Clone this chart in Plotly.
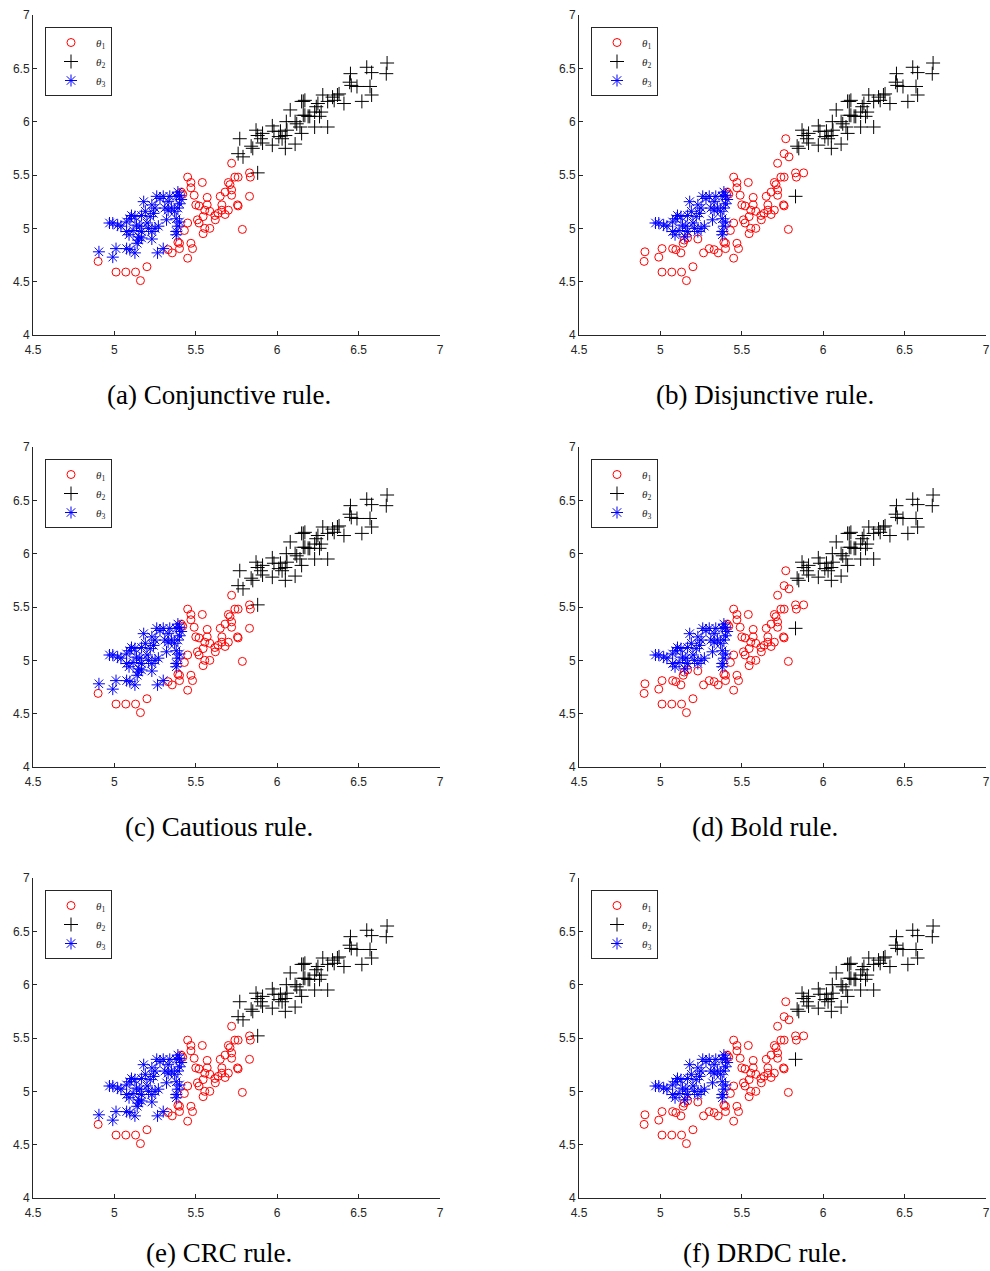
import plotly.graph_objects as go

# point groups, named by class under conjunctive-type rules / disjunctive-type rules
# theta1 under both
x_red = [4.90, 5.01, 5.07, 5.13, 5.16, 5.20, 5.33, 5.355, 5.40, 5.40, 5.45, 5.47, 5.48, 5.39, 5.43, 5.45,
         5.45, 5.47, 5.47, 5.54, 5.41, 5.42, 5.49, 5.57, 5.65, 5.68, 5.70, 5.71, 5.72, 5.72, 5.72, 5.74,
         5.83, 5.835, 5.756, 5.76, 5.66, 5.66, 5.70, 5.68, 5.50, 5.52, 5.57, 5.555, 5.586, 5.617, 5.637,
         5.545, 5.51, 5.52, 5.62, 5.586, 5.545, 5.786, 5.555, 5.76]
y_red = [4.69, 4.59, 4.59, 4.59, 4.51, 4.64, 4.80, 4.77, 4.86, 4.81, 4.72, 4.86, 4.81, 4.87, 4.98, 5.05,
         5.48, 5.43, 5.38, 5.43, 5.34, 5.32, 5.31, 5.29, 5.30, 5.34, 5.43, 5.41, 5.36, 5.31, 5.61, 5.48,
         5.52, 5.48, 5.22, 5.21, 5.22, 5.17, 5.17, 5.13, 5.22, 5.21, 5.22, 5.17, 5.16, 5.12, 5.14,
         5.11, 5.08, 5.05, 5.08, 5.00, 4.95, 4.99, 5.00, 5.48]

# theta2 under both
x_black = [5.84, 5.85, 5.87, 5.88, 5.90, 5.91, 5.91, 5.97, 5.98, 6.02, 6.01, 6.05,
           6.06, 5.97, 6.05, 6.11, 6.056, 6.08, 6.11, 6.12, 6.14, 6.15, 6.17, 6.19, 6.15, 6.17, 6.23,
           6.31, 6.25, 6.27, 6.26, 6.28, 6.31, 6.35, 6.38, 6.41, 6.52, 6.445, 6.455, 6.49, 6.57, 6.58,
           6.45, 6.55, 6.58, 6.675, 6.67, 6.24, 6.23, 6.16, 6.20, 6.16, 6.34, 6.37, 6.03]
y_black = [5.77, 5.75, 5.92, 5.87, 5.84, 5.89, 5.80, 5.96, 5.91, 5.91, 5.86, 5.87,
           5.92, 5.78, 5.75, 5.79, 6.00, 6.11, 6.00, 5.98, 5.95, 5.89, 6.06, 6.05, 6.19, 6.20, 5.95,
           5.95, 6.17, 6.09, 6.05, 6.25, 6.19, 6.20, 6.26, 6.17, 6.19, 6.37, 6.34, 6.33, 6.33, 6.25,
           6.45, 6.51, 6.46, 6.55, 6.45, 6.14, 6.09, 6.06, 6.05, 6.19, 6.23, 6.25, 5.84]

# theta3 under both
x_blue = [4.97, 4.99, 5.02, 5.04, 5.075, 5.095, 5.105, 5.126, 5.075, 5.09, 5.115, 5.136, 5.156, 5.167,
          5.15, 5.167, 5.19, 5.22, 5.24, 5.25, 5.23, 5.26, 5.28, 5.18, 5.20, 5.21, 5.23, 5.25, 5.27,
          5.30, 5.34, 5.38, 5.40, 5.31, 5.33, 5.35, 5.37, 5.39, 5.32, 5.38, 5.40, 5.39, 5.38, 5.38,
          5.40, 5.41, 5.39, 5.33]
y_blue = [5.05, 5.05, 5.03, 5.02, 5.06, 5.09, 5.12, 5.11, 4.97, 4.94, 4.98, 5.03, 5.02, 4.97,
          4.92, 5.12, 5.16, 5.11, 5.14, 5.19, 5.22, 5.30, 5.28, 5.25, 5.05, 5.00, 4.97, 5.00, 5.02,
          5.30, 5.30, 5.30, 5.31, 5.19, 5.17, 5.19, 5.16, 5.19, 5.08, 5.09, 5.06, 5.02, 4.97, 4.94,
          5.23, 5.27, 5.34, 5.25]

# theta3 under conjunctive-type rules, theta1 under disjunctive-type rules
x_blue_red = [4.905, 4.99, 5.01, 5.075, 5.095, 5.126, 5.14, 5.146, 5.167, 5.23, 5.265, 5.30]
y_blue_red = [4.78, 4.73, 4.81, 4.81, 4.80, 4.77, 4.86, 4.89, 4.91, 4.90, 4.77, 4.81]

# theta1 -> theta2
x_red_black = [5.83]
y_red_black = [5.30]

# theta2 -> theta1
x_black_red = [5.88, 5.77, 5.76, 5.79]
y_black_red = [5.52, 5.84, 5.70, 5.67]

captions = ["(a) Conjunctive rule.", "(b) Disjunctive rule.", "(c) Cautious rule.",
            "(d) Bold rule.", "(e) CRC rule.", "(f) DRDC rule."]
rule_type = ["conj", "disj", "conj", "disj", "conj", "disj"]

W, H = 990, 1271
col_left = [33, 579]
col_center = [219, 765]
row_top = [15, 447, 878]
caption_y = [395, 827, 1253]
plot_w, plot_h = 407, 320

axis_col = '#262626'
tick_font = dict(family='Liberation Sans, Arial, sans-serif', size=12, color=axis_col)

fig = go.Figure()
for k, cap in enumerate(captions):
    r, c = divmod(k, 2)
    s = '' if k == 0 else str(k + 1)
    if rule_type[k] == "conj":
        t1 = (x_red + x_red_black, y_red + y_red_black)
        t2 = (x_black + x_black_red, y_black + y_black_red)
        t3 = (x_blue + x_blue_red, y_blue + y_blue_red)
    else:
        t1 = (x_red + x_blue_red + x_black_red, y_red + y_blue_red + y_black_red)
        t2 = (x_black + x_red_black, y_black + y_red_black)
        t3 = (x_blue, y_blue)
    styles = [
        ('<i>θ</i><sub>1</sub>', t1, 'circle-open', '#FF0000', 8),
        ('<i>θ</i><sub>2</sub>', t2, 'cross-thin-open', '#000000', 10),
        ('<i>θ</i><sub>3</sub>', t3, 'asterisk-open', '#0000FF', 10),
    ]
    for name, (xs, ys), sym, colr, size in styles:
        fig.add_trace(go.Scatter(
            x=xs, y=ys, mode='markers', name=name,
            xaxis='x' + s, yaxis='y' + s, legend='legend' + s,
            marker=dict(symbol=sym, size=size, color=colr, line=dict(color=colr, width=1))))

    x0 = col_left[c]
    y0 = row_top[r]
    fig.layout['xaxis' + s] = dict(
        domain=[x0 / W, (x0 + plot_w) / W], anchor='y' + s, range=[4.5, 7],
        tickvals=[4.5, 5, 5.5, 6, 6.5, 7], ticktext=['4.5', '5', '5.5', '6', '6.5', '7'],
        showline=True, linecolor=axis_col, linewidth=1, mirror=False,
        ticks='inside', ticklen=4, tickcolor=axis_col, tickwidth=1, automargin=False,
        showgrid=False, zeroline=False, tickfont=tick_font, ticklabelstandoff=4)
    fig.layout['yaxis' + s] = dict(
        domain=[1 - (y0 + plot_h) / H, 1 - y0 / H], anchor='x' + s, range=[4, 7],
        tickvals=[4, 4.5, 5, 5.5, 6, 6.5, 7], ticktext=['4', '4.5', '5', '5.5', '6', '6.5', '7'],
        showline=True, linecolor=axis_col, linewidth=1, mirror=False,
        ticks='inside', ticklen=4, tickcolor=axis_col, tickwidth=1, automargin=False,
        showgrid=False, zeroline=False, tickfont=tick_font)
    fig.layout['legend' + s] = dict(
        x=(x0 + 12) / W, y=1 - (y0 + 12) / H, xanchor='left', yanchor='top',
        bgcolor='white', bordercolor=axis_col, borderwidth=1, itemwidth=40,
        font=dict(family='Liberation Serif, Times New Roman, serif', size=11, color=axis_col),
        tracegroupgap=0)
    fig.add_annotation(
        text=cap, xref='paper', yref='paper', x=col_center[c] / W,
        y=1 - caption_y[r] / H, xanchor='center', yanchor='middle', showarrow=False,
        font=dict(family='Liberation Serif, Times New Roman, serif', size=27, color='black'))

fig.update_layout(
    width=W, height=H, margin=dict(l=0, r=0, t=0, b=0, autoexpand=False),
    paper_bgcolor='white', plot_bgcolor='white', showlegend=True)

fig.write_html("out.html", config={'displayModeBar': False},
               post_script="document.body.style.margin='0';")
